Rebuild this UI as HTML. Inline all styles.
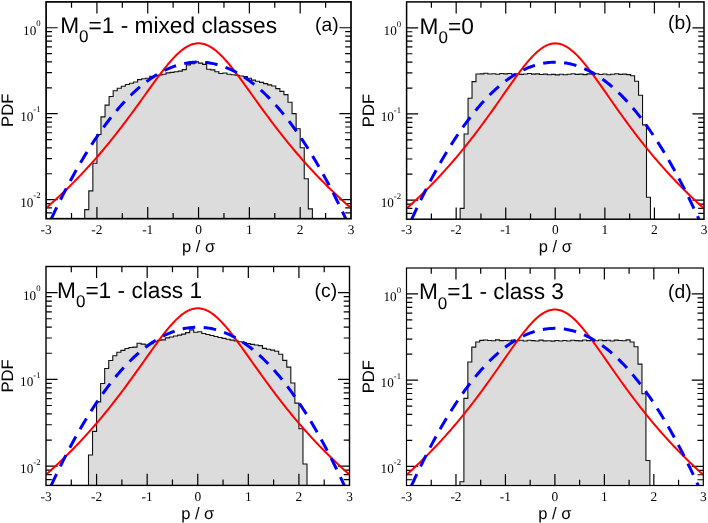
<!DOCTYPE html>
<html><head><meta charset="utf-8"><title>PDF panels</title>
<style>
html,body{margin:0;padding:0;background:#fff;}
body{width:708px;height:523px;overflow:hidden;font-family:"Liberation Sans",sans-serif;}
svg{display:block;}
text{filter:grayscale(1);text-rendering:geometricPrecision;}
text{fill:#000;}
.ss{font-family:"Liberation Sans",sans-serif;}
.sf{font-family:"Liberation Serif",serif;}
</style></head>
<body>
<svg width="708" height="523" viewBox="0 0 708 523">
<rect width="708" height="523" fill="#fff"/>
<clipPath id="clip0"><rect x="46.1" y="1.9" width="304.9" height="216.8"/></clipPath>
<g clip-path="url(#clip0)">
<path d="M84.72 218.7 L84.72 209.6 L88.79 209.6 L88.79 190.9 L92.85 190.9 L92.85 163.3 L96.92 163.3 L96.92 134.5 L100.98 134.5 L100.98 116.9 L105.05 116.9 L105.05 105.1 L109.11 105.1 L109.11 96.5 L113.18 96.5 L113.18 90.7 L117.24 90.7 L117.24 88.2 L121.31 88.2 L121.31 86.2 L125.37 86.2 L125.37 84.5 L129.44 84.5 L129.44 83.2 L133.5 83.2 L133.5 82 L137.57 82 L137.57 79.6 L141.64 79.6 L141.64 78.8 L145.7 78.8 L145.7 78.3 L149.77 78.3 L149.77 76.3 L153.83 76.3 L153.83 75.6 L157.9 75.6 L157.9 75 L161.96 75 L161.96 74.3 L166.03 74.3 L166.03 72.9 L170.09 72.9 L170.09 72.4 L174.16 72.4 L174.16 71.7 L178.22 71.7 L178.22 71.1 L182.29 71.1 L182.29 69.6 L186.35 69.6 L186.35 64.9 L190.42 64.9 L190.42 63.7 L194.48 63.7 L194.48 61.9 L198.55 61.9 L198.55 63.1 L202.62 63.1 L202.62 64.4 L206.68 64.4 L206.68 69.3 L210.75 69.3 L210.75 69.9 L214.81 69.9 L214.81 71.7 L218.88 71.7 L218.88 73.5 L222.94 73.5 L222.94 73 L227.01 73 L227.01 74.3 L231.07 74.3 L231.07 74.8 L235.14 74.8 L235.14 75.3 L239.2 75.3 L239.2 76 L243.27 76 L243.27 76.6 L247.33 76.6 L247.33 78.3 L251.4 78.3 L251.4 80.1 L255.46 80.1 L255.46 81.2 L259.53 81.2 L259.53 82.4 L263.6 82.4 L263.6 83.6 L267.66 83.6 L267.66 84.9 L271.73 84.9 L271.73 86 L275.79 86 L275.79 88.6 L279.86 88.6 L279.86 91.4 L283.92 91.4 L283.92 94.6 L287.99 94.6 L287.99 102.3 L292.05 102.3 L292.05 113.6 L296.12 113.6 L296.12 128.7 L300.18 128.7 L300.18 147.8 L304.25 147.8 L304.25 178.8 L308.31 178.8 L308.31 208.9 L312.38 208.9 L312.38 218.7 Z" fill="#dcdcdc" stroke="none"/>
</g>
<path d="M71.51 218.7 v-5.8 M71.51 1.9 v5.8 M96.92 218.7 v-11.6 M96.92 1.9 v11.6 M122.33 218.7 v-5.8 M122.33 1.9 v5.8 M147.73 218.7 v-11.6 M147.73 1.9 v11.6 M173.14 218.7 v-5.8 M173.14 1.9 v5.8 M198.55 218.7 v-11.6 M198.55 1.9 v11.6 M223.96 218.7 v-5.8 M223.96 1.9 v5.8 M249.37 218.7 v-11.6 M249.37 1.9 v11.6 M274.77 218.7 v-5.8 M274.77 1.9 v5.8 M300.18 218.7 v-11.6 M300.18 1.9 v11.6 M325.59 218.7 v-5.8 M325.59 1.9 v5.8 M46.1 27.77 h11.6 M351 27.77 h-11.6 M46.1 113.7 h11.6 M351 113.7 h-11.6 M46.1 87.83 h5.8 M351 87.83 h-5.8 M46.1 72.7 h5.8 M351 72.7 h-5.8 M46.1 61.96 h5.8 M351 61.96 h-5.8 M46.1 53.64 h5.8 M351 53.64 h-5.8 M46.1 46.83 h5.8 M351 46.83 h-5.8 M46.1 41.08 h5.8 M351 41.08 h-5.8 M46.1 36.1 h5.8 M351 36.1 h-5.8 M46.1 31.7 h5.8 M351 31.7 h-5.8 M46.1 199.64 h11.6 M351 199.64 h-11.6 M46.1 173.77 h5.8 M351 173.77 h-5.8 M46.1 158.64 h5.8 M351 158.64 h-5.8 M46.1 147.9 h5.8 M351 147.9 h-5.8 M46.1 139.57 h5.8 M351 139.57 h-5.8 M46.1 132.77 h5.8 M351 132.77 h-5.8 M46.1 127.01 h5.8 M351 127.01 h-5.8 M46.1 122.03 h5.8 M351 122.03 h-5.8 M46.1 117.63 h5.8 M351 117.63 h-5.8 M46.1 212.95 h5.8 M351 212.95 h-5.8 M46.1 207.96 h5.8 M351 207.96 h-5.8 M46.1 203.57 h5.8 M351 203.57 h-5.8" fill="none" stroke="#000" stroke-width="1.2"/>
<g clip-path="url(#clip0)">
<path d="M84.72 218.7 L84.72 209.6 L88.79 209.6 L88.79 190.9 L92.85 190.9 L92.85 163.3 L96.92 163.3 L96.92 134.5 L100.98 134.5 L100.98 116.9 L105.05 116.9 L105.05 105.1 L109.11 105.1 L109.11 96.5 L113.18 96.5 L113.18 90.7 L117.24 90.7 L117.24 88.2 L121.31 88.2 L121.31 86.2 L125.37 86.2 L125.37 84.5 L129.44 84.5 L129.44 83.2 L133.5 83.2 L133.5 82 L137.57 82 L137.57 79.6 L141.64 79.6 L141.64 78.8 L145.7 78.8 L145.7 78.3 L149.77 78.3 L149.77 76.3 L153.83 76.3 L153.83 75.6 L157.9 75.6 L157.9 75 L161.96 75 L161.96 74.3 L166.03 74.3 L166.03 72.9 L170.09 72.9 L170.09 72.4 L174.16 72.4 L174.16 71.7 L178.22 71.7 L178.22 71.1 L182.29 71.1 L182.29 69.6 L186.35 69.6 L186.35 64.9 L190.42 64.9 L190.42 63.7 L194.48 63.7 L194.48 61.9 L198.55 61.9 L198.55 63.1 L202.62 63.1 L202.62 64.4 L206.68 64.4 L206.68 69.3 L210.75 69.3 L210.75 69.9 L214.81 69.9 L214.81 71.7 L218.88 71.7 L218.88 73.5 L222.94 73.5 L222.94 73 L227.01 73 L227.01 74.3 L231.07 74.3 L231.07 74.8 L235.14 74.8 L235.14 75.3 L239.2 75.3 L239.2 76 L243.27 76 L243.27 76.6 L247.33 76.6 L247.33 78.3 L251.4 78.3 L251.4 80.1 L255.46 80.1 L255.46 81.2 L259.53 81.2 L259.53 82.4 L263.6 82.4 L263.6 83.6 L267.66 83.6 L267.66 84.9 L271.73 84.9 L271.73 86 L275.79 86 L275.79 88.6 L279.86 88.6 L279.86 91.4 L283.92 91.4 L283.92 94.6 L287.99 94.6 L287.99 102.3 L292.05 102.3 L292.05 113.6 L296.12 113.6 L296.12 128.7 L300.18 128.7 L300.18 147.8 L304.25 147.8 L304.25 178.8 L308.31 178.8 L308.31 208.9 L312.38 208.9 L312.38 218.7" fill="none" stroke="#111" stroke-width="1.1" stroke-linejoin="miter"/>
<path d="M46.1 208.1 L47.37 206.99 L48.64 205.87 L49.91 204.75 L51.18 203.62 L52.45 202.48 L53.72 201.33 L54.99 200.17 L56.26 199.01 L57.53 197.84 L58.8 196.66 L60.07 195.47 L61.34 194.27 L62.62 193.07 L63.89 191.86 L65.16 190.64 L66.43 189.41 L67.7 188.17 L68.97 186.93 L70.24 185.67 L71.51 184.41 L72.78 183.14 L74.05 181.86 L75.32 180.57 L76.59 179.27 L77.86 177.96 L79.13 176.64 L80.4 175.32 L81.67 173.98 L82.94 172.63 L84.21 171.28 L85.48 169.91 L86.75 168.54 L88.02 167.15 L89.29 165.76 L90.56 164.36 L91.84 162.94 L93.11 161.52 L94.38 160.08 L95.65 158.64 L96.92 157.18 L98.19 155.72 L99.46 154.24 L100.73 152.75 L102 151.26 L103.27 149.75 L104.54 148.23 L105.81 146.7 L107.08 145.17 L108.35 143.62 L109.62 142.06 L110.89 140.49 L112.16 138.91 L113.43 137.32 L114.7 135.71 L115.97 134.1 L117.24 132.48 L118.51 130.85 L119.78 129.21 L121.05 127.56 L122.33 125.9 L123.6 124.23 L124.87 122.55 L126.14 120.86 L127.41 119.16 L128.68 117.46 L129.95 115.74 L131.22 114.02 L132.49 112.29 L133.76 110.56 L135.03 108.82 L136.3 107.07 L137.57 105.32 L138.84 103.56 L140.11 101.8 L141.38 100.03 L142.65 98.26 L143.92 96.49 L145.19 94.72 L146.46 92.95 L147.73 91.18 L149 89.42 L150.27 87.66 L151.54 85.9 L152.82 84.14 L154.09 82.4 L155.36 80.67 L156.63 78.94 L157.9 77.23 L159.17 75.53 L160.44 73.85 L161.71 72.19 L162.98 70.54 L164.25 68.92 L165.52 67.33 L166.79 65.76 L168.06 64.22 L169.33 62.72 L170.6 61.25 L171.87 59.82 L173.14 58.42 L174.41 57.07 L175.68 55.77 L176.95 54.52 L178.22 53.32 L179.49 52.17 L180.76 51.08 L182.03 50.05 L183.31 49.09 L184.58 48.19 L185.85 47.36 L187.12 46.6 L188.39 45.92 L189.66 45.31 L190.93 44.77 L192.2 44.32 L193.47 43.94 L194.74 43.65 L196.01 43.44 L197.28 43.32 L198.55 43.28 L199.82 43.32 L201.09 43.44 L202.36 43.65 L203.63 43.94 L204.9 44.32 L206.17 44.77 L207.44 45.31 L208.71 45.92 L209.98 46.6 L211.25 47.36 L212.52 48.19 L213.8 49.09 L215.07 50.05 L216.34 51.08 L217.61 52.17 L218.88 53.32 L220.15 54.52 L221.42 55.77 L222.69 57.07 L223.96 58.42 L225.23 59.82 L226.5 61.25 L227.77 62.72 L229.04 64.22 L230.31 65.76 L231.58 67.33 L232.85 68.92 L234.12 70.54 L235.39 72.19 L236.66 73.85 L237.93 75.53 L239.2 77.23 L240.47 78.94 L241.74 80.67 L243.01 82.4 L244.28 84.14 L245.56 85.9 L246.83 87.66 L248.1 89.42 L249.37 91.18 L250.64 92.95 L251.91 94.72 L253.18 96.49 L254.45 98.26 L255.72 100.03 L256.99 101.8 L258.26 103.56 L259.53 105.32 L260.8 107.07 L262.07 108.82 L263.34 110.56 L264.61 112.29 L265.88 114.02 L267.15 115.74 L268.42 117.46 L269.69 119.16 L270.96 120.86 L272.23 122.55 L273.5 124.23 L274.77 125.9 L276.05 127.56 L277.32 129.21 L278.59 130.85 L279.86 132.48 L281.13 134.1 L282.4 135.71 L283.67 137.32 L284.94 138.91 L286.21 140.49 L287.48 142.06 L288.75 143.62 L290.02 145.17 L291.29 146.7 L292.56 148.23 L293.83 149.75 L295.1 151.26 L296.37 152.75 L297.64 154.24 L298.91 155.72 L300.18 157.18 L301.45 158.64 L302.72 160.08 L303.99 161.52 L305.26 162.94 L306.54 164.36 L307.81 165.76 L309.08 167.15 L310.35 168.54 L311.62 169.91 L312.89 171.28 L314.16 172.63 L315.43 173.98 L316.7 175.32 L317.97 176.64 L319.24 177.96 L320.51 179.27 L321.78 180.57 L323.05 181.86 L324.32 183.14 L325.59 184.41 L326.86 185.67 L328.13 186.93 L329.4 188.17 L330.67 189.41 L331.94 190.64 L333.21 191.86 L334.48 193.07 L335.75 194.27 L337.03 195.47 L338.3 196.66 L339.57 197.84 L340.84 199.01 L342.11 200.17 L343.38 201.33 L344.65 202.48 L345.92 203.62 L347.19 204.75 L348.46 205.87 L349.73 206.99 L351 208.1" fill="none" stroke="#ff0000" stroke-width="2.0"/>
<path d="M51.32 218.7 L52.55 216.1 L53.77 213.52 L55 210.97 L56.23 208.43 L57.46 205.92 L58.68 203.43 L59.91 200.96 L61.14 198.51 L62.36 196.09 L63.59 193.68 L64.82 191.3 L66.04 188.94 L67.27 186.6 L68.5 184.28 L69.72 181.99 L70.95 179.71 L72.18 177.46 L73.41 175.23 L74.63 173.03 L75.86 170.84 L77.09 168.67 L78.31 166.53 L79.54 164.41 L80.77 162.31 L81.99 160.23 L83.22 158.18 L84.45 156.14 L85.67 154.13 L86.9 152.14 L88.13 150.17 L89.36 148.22 L90.58 146.3 L91.81 144.4 L93.04 142.51 L94.26 140.65 L95.49 138.82 L96.72 137 L97.94 135.2 L99.17 133.43 L100.4 131.68 L101.62 129.95 L102.85 128.24 L104.08 126.56 L105.3 124.89 L106.53 123.25 L107.76 121.63 L108.99 120.03 L110.21 118.45 L111.44 116.9 L112.67 115.36 L113.89 113.85 L115.12 112.36 L116.35 110.89 L117.57 109.45 L118.8 108.02 L120.03 106.62 L121.25 105.24 L122.48 103.88 L123.71 102.54 L124.94 101.22 L126.16 99.93 L127.39 98.66 L128.62 97.4 L129.84 96.18 L131.07 94.97 L132.3 93.78 L133.52 92.62 L134.75 91.48 L135.98 90.36 L137.2 89.26 L138.43 88.18 L139.66 87.13 L140.89 86.09 L142.11 85.08 L143.34 84.09 L144.57 83.12 L145.79 82.18 L147.02 81.25 L148.25 80.35 L149.47 79.47 L150.7 78.61 L151.93 77.77 L153.15 76.96 L154.38 76.16 L155.61 75.39 L156.84 74.64 L158.06 73.91 L159.29 73.2 L160.52 72.52 L161.74 71.85 L162.97 71.21 L164.2 70.59 L165.42 69.99 L166.65 69.42 L167.88 68.86 L169.1 68.33 L170.33 67.82 L171.56 67.33 L172.78 66.86 L174.01 66.41 L175.24 65.99 L176.47 65.59 L177.69 65.21 L178.92 64.85 L180.15 64.51 L181.37 64.2 L182.6 63.9 L183.83 63.63 L185.05 63.38 L186.28 63.15 L187.51 62.94 L188.73 62.76 L189.96 62.6 L191.19 62.46 L192.42 62.34 L193.64 62.24 L194.87 62.16 L196.1 62.11 L197.32 62.07 L198.55 62.06 L199.78 62.07 L201 62.11 L202.23 62.16 L203.46 62.24 L204.68 62.34 L205.91 62.46 L207.14 62.6 L208.37 62.76 L209.59 62.94 L210.82 63.15 L212.05 63.38 L213.27 63.63 L214.5 63.9 L215.73 64.2 L216.95 64.51 L218.18 64.85 L219.41 65.21 L220.63 65.59 L221.86 65.99 L223.09 66.41 L224.32 66.86 L225.54 67.33 L226.77 67.82 L228 68.33 L229.22 68.86 L230.45 69.42 L231.68 69.99 L232.9 70.59 L234.13 71.21 L235.36 71.85 L236.58 72.52 L237.81 73.2 L239.04 73.91 L240.26 74.64 L241.49 75.39 L242.72 76.16 L243.95 76.96 L245.17 77.77 L246.4 78.61 L247.63 79.47 L248.85 80.35 L250.08 81.25 L251.31 82.18 L252.53 83.12 L253.76 84.09 L254.99 85.08 L256.21 86.09 L257.44 87.13 L258.67 88.18 L259.9 89.26 L261.12 90.36 L262.35 91.48 L263.58 92.62 L264.8 93.78 L266.03 94.97 L267.26 96.18 L268.48 97.4 L269.71 98.66 L270.94 99.93 L272.16 101.22 L273.39 102.54 L274.62 103.88 L275.85 105.24 L277.07 106.62 L278.3 108.02 L279.53 109.45 L280.75 110.89 L281.98 112.36 L283.21 113.85 L284.43 115.36 L285.66 116.9 L286.89 118.45 L288.11 120.03 L289.34 121.63 L290.57 123.25 L291.8 124.89 L293.02 126.56 L294.25 128.24 L295.48 129.95 L296.7 131.68 L297.93 133.43 L299.16 135.2 L300.38 137 L301.61 138.82 L302.84 140.65 L304.06 142.51 L305.29 144.4 L306.52 146.3 L307.74 148.22 L308.97 150.17 L310.2 152.14 L311.43 154.13 L312.65 156.14 L313.88 158.18 L315.11 160.23 L316.33 162.31 L317.56 164.41 L318.79 166.53 L320.01 168.67 L321.24 170.84 L322.47 173.03 L323.69 175.23 L324.92 177.46 L326.15 179.71 L327.38 181.99 L328.6 184.28 L329.83 186.6 L331.06 188.94 L332.28 191.3 L333.51 193.68 L334.74 196.09 L335.96 198.51 L337.19 200.96 L338.42 203.43 L339.64 205.92 L340.87 208.43 L342.1 210.97 L343.33 213.52 L344.55 216.1 L345.78 218.7" fill="none" stroke="#0000ff" stroke-width="3.0" stroke-dasharray="12.6 8.45" stroke-dashoffset="0"/>
</g>
<rect x="46.1" y="1.9" width="304.9" height="216.8" fill="none" stroke="#000" stroke-width="1.7"/>
<text x="46.1" y="233.9" class="sf" font-size="13.4" text-anchor="middle">-3</text>
<text x="96.92" y="233.9" class="sf" font-size="13.4" text-anchor="middle">-2</text>
<text x="147.73" y="233.9" class="sf" font-size="13.4" text-anchor="middle">-1</text>
<text x="198.55" y="233.9" class="sf" font-size="13.4" text-anchor="middle">0</text>
<text x="249.37" y="233.9" class="sf" font-size="13.4" text-anchor="middle">1</text>
<text x="300.18" y="233.9" class="sf" font-size="13.4" text-anchor="middle">2</text>
<text x="351" y="233.9" class="sf" font-size="13.4" text-anchor="middle">3</text>
<text x="40.6" y="34.77" class="sf" font-size="13.2" text-anchor="end">10<tspan font-size="8.7" dy="-8.3">0</tspan></text>
<text x="40.6" y="120.7" class="sf" font-size="13.2" text-anchor="end">10<tspan font-size="8.7" dy="-8.3">-1</tspan></text>
<text x="40.6" y="206.64" class="sf" font-size="13.2" text-anchor="end">10<tspan font-size="8.7" dy="-8.3">-2</tspan></text>
<text x="198.55" y="252.1" class="ss" font-size="16.5" text-anchor="middle">p / σ</text>
<text transform="translate(13.3 110.3) rotate(-90)" class="ss" font-size="16.6" text-anchor="middle">PDF</text>
<text x="60.2" y="32.9" class="ss" font-size="22.7">M<tspan font-size="17" dy="9.4">0</tspan><tspan dy="-9.4">=1 - mixed classes</tspan></text>
<text x="315" y="30.6" class="ss" font-size="19.3">(a)</text>
<clipPath id="clip1"><rect x="406.6" y="1.9" width="297.4" height="217.3"/></clipPath>
<g clip-path="url(#clip1)">
<path d="M460.13 219.2 L460.13 208.4 L464.1 208.4 L464.1 134 L468.06 134 L468.06 98.3 L472.03 98.3 L472.03 81.6 L475.99 81.6 L475.99 74 L479.96 74 L479.96 73.83 L483.92 73.83 L483.92 73.25 L487.89 73.25 L487.89 73.96 L491.85 73.96 L491.85 73.68 L495.82 73.68 L495.82 74.2 L499.79 74.2 L499.79 73.52 L503.75 73.52 L503.75 73.84 L507.72 73.84 L507.72 73.46 L511.68 73.46 L511.68 74.18 L515.65 74.18 L515.65 73.69 L519.61 73.69 L519.61 74.41 L523.58 74.41 L523.58 74.03 L527.54 74.03 L527.54 73.45 L531.51 73.45 L531.51 74.17 L535.47 74.17 L535.47 73.89 L539.44 73.89 L539.44 74.49 L543.4 74.49 L543.4 74.15 L547.37 74.15 L547.37 74.81 L551.33 74.81 L551.33 74.36 L555.3 74.36 L555.3 74.87 L559.27 74.87 L559.27 74.19 L563.23 74.19 L563.23 74.7 L567.2 74.7 L567.2 74.3 L571.16 74.3 L571.16 73.7 L575.13 73.7 L575.13 74.4 L579.09 74.4 L579.09 74.1 L583.06 74.1 L583.06 74.6 L587.02 74.6 L587.02 73.9 L590.99 73.9 L590.99 74.2 L594.95 74.2 L594.95 73.8 L598.92 73.8 L598.92 74.5 L602.88 74.5 L602.88 74 L606.85 74 L606.85 74.7 L610.81 74.7 L610.81 74.3 L614.78 74.3 L614.78 73.7 L618.75 73.7 L618.75 74.4 L622.71 74.4 L622.71 74.1 L626.68 74.1 L626.68 74.6 L630.64 74.6 L630.64 75.7 L634.61 75.7 L634.61 81.3 L638.57 81.3 L638.57 95.2 L642.54 95.2 L642.54 124.9 L646.5 124.9 L646.5 197.3 L650.47 197.3 L650.47 219.2 Z" fill="#dcdcdc" stroke="none"/>
</g>
<path d="M431.38 219.2 v-5.8 M431.38 1.9 v5.8 M456.17 219.2 v-11.6 M456.17 1.9 v11.6 M480.95 219.2 v-5.8 M480.95 1.9 v5.8 M505.73 219.2 v-11.6 M505.73 1.9 v11.6 M530.52 219.2 v-5.8 M530.52 1.9 v5.8 M555.3 219.2 v-11.6 M555.3 1.9 v11.6 M580.08 219.2 v-5.8 M580.08 1.9 v5.8 M604.87 219.2 v-11.6 M604.87 1.9 v11.6 M629.65 219.2 v-5.8 M629.65 1.9 v5.8 M654.43 219.2 v-11.6 M654.43 1.9 v11.6 M679.22 219.2 v-5.8 M679.22 1.9 v5.8 M406.6 27.83 h11.6 M704 27.83 h-11.6 M406.6 113.96 h11.6 M704 113.96 h-11.6 M406.6 88.03 h5.8 M704 88.03 h-5.8 M406.6 72.86 h5.8 M704 72.86 h-5.8 M406.6 62.1 h5.8 M704 62.1 h-5.8 M406.6 53.76 h5.8 M704 53.76 h-5.8 M406.6 46.94 h5.8 M704 46.94 h-5.8 M406.6 41.17 h5.8 M704 41.17 h-5.8 M406.6 36.18 h5.8 M704 36.18 h-5.8 M406.6 31.77 h5.8 M704 31.77 h-5.8 M406.6 200.09 h11.6 M704 200.09 h-11.6 M406.6 174.16 h5.8 M704 174.16 h-5.8 M406.6 159 h5.8 M704 159 h-5.8 M406.6 148.24 h5.8 M704 148.24 h-5.8 M406.6 139.89 h5.8 M704 139.89 h-5.8 M406.6 133.07 h5.8 M704 133.07 h-5.8 M406.6 127.3 h5.8 M704 127.3 h-5.8 M406.6 122.31 h5.8 M704 122.31 h-5.8 M406.6 117.9 h5.8 M704 117.9 h-5.8 M406.6 213.43 h5.8 M704 213.43 h-5.8 M406.6 208.44 h5.8 M704 208.44 h-5.8 M406.6 204.03 h5.8 M704 204.03 h-5.8" fill="none" stroke="#000" stroke-width="1.2"/>
<g clip-path="url(#clip1)">
<path d="M460.13 219.2 L460.13 208.4 L464.1 208.4 L464.1 134 L468.06 134 L468.06 98.3 L472.03 98.3 L472.03 81.6 L475.99 81.6 L475.99 74 L479.96 74 L479.96 73.83 L483.92 73.83 L483.92 73.25 L487.89 73.25 L487.89 73.96 L491.85 73.96 L491.85 73.68 L495.82 73.68 L495.82 74.2 L499.79 74.2 L499.79 73.52 L503.75 73.52 L503.75 73.84 L507.72 73.84 L507.72 73.46 L511.68 73.46 L511.68 74.18 L515.65 74.18 L515.65 73.69 L519.61 73.69 L519.61 74.41 L523.58 74.41 L523.58 74.03 L527.54 74.03 L527.54 73.45 L531.51 73.45 L531.51 74.17 L535.47 74.17 L535.47 73.89 L539.44 73.89 L539.44 74.49 L543.4 74.49 L543.4 74.15 L547.37 74.15 L547.37 74.81 L551.33 74.81 L551.33 74.36 L555.3 74.36 L555.3 74.87 L559.27 74.87 L559.27 74.19 L563.23 74.19 L563.23 74.7 L567.2 74.7 L567.2 74.3 L571.16 74.3 L571.16 73.7 L575.13 73.7 L575.13 74.4 L579.09 74.4 L579.09 74.1 L583.06 74.1 L583.06 74.6 L587.02 74.6 L587.02 73.9 L590.99 73.9 L590.99 74.2 L594.95 74.2 L594.95 73.8 L598.92 73.8 L598.92 74.5 L602.88 74.5 L602.88 74 L606.85 74 L606.85 74.7 L610.81 74.7 L610.81 74.3 L614.78 74.3 L614.78 73.7 L618.75 73.7 L618.75 74.4 L622.71 74.4 L622.71 74.1 L626.68 74.1 L626.68 74.6 L630.64 74.6 L630.64 75.7 L634.61 75.7 L634.61 81.3 L638.57 81.3 L638.57 95.2 L642.54 95.2 L642.54 124.9 L646.5 124.9 L646.5 197.3 L650.47 197.3 L650.47 219.2" fill="none" stroke="#111" stroke-width="1.1" stroke-linejoin="miter"/>
<path d="M406.6 208.58 L407.84 207.47 L409.08 206.34 L410.32 205.22 L411.56 204.08 L412.8 202.94 L414.03 201.79 L415.27 200.63 L416.51 199.46 L417.75 198.29 L418.99 197.11 L420.23 195.92 L421.47 194.72 L422.71 193.51 L423.95 192.3 L425.19 191.07 L426.43 189.84 L427.67 188.6 L428.9 187.35 L430.14 186.1 L431.38 184.83 L432.62 183.56 L433.86 182.27 L435.1 180.98 L436.34 179.68 L437.58 178.37 L438.82 177.05 L440.06 175.72 L441.3 174.38 L442.54 173.03 L443.77 171.67 L445.01 170.3 L446.25 168.92 L447.49 167.54 L448.73 166.14 L449.97 164.73 L451.21 163.31 L452.45 161.89 L453.69 160.45 L454.93 159 L456.17 157.54 L457.41 156.07 L458.64 154.59 L459.88 153.1 L461.12 151.6 L462.36 150.09 L463.6 148.57 L464.84 147.04 L466.08 145.5 L467.32 143.94 L468.56 142.38 L469.8 140.81 L471.04 139.22 L472.28 137.63 L473.51 136.02 L474.75 134.41 L475.99 132.78 L477.23 131.15 L478.47 129.5 L479.71 127.85 L480.95 126.18 L482.19 124.51 L483.43 122.83 L484.67 121.13 L485.91 119.43 L487.15 117.72 L488.38 116.01 L489.62 114.28 L490.86 112.55 L492.1 110.81 L493.34 109.06 L494.58 107.31 L495.82 105.55 L497.06 103.79 L498.3 102.03 L499.54 100.26 L500.78 98.48 L502.02 96.71 L503.25 94.94 L504.49 93.16 L505.73 91.39 L506.97 89.62 L508.21 87.85 L509.45 86.09 L510.69 84.33 L511.93 82.59 L513.17 80.85 L514.41 79.12 L515.65 77.4 L516.89 75.7 L518.12 74.02 L519.36 72.35 L520.6 70.7 L521.84 69.08 L523.08 67.48 L524.32 65.91 L525.56 64.37 L526.8 62.86 L528.04 61.39 L529.28 59.95 L530.52 58.55 L531.76 57.2 L532.99 55.9 L534.23 54.64 L535.47 53.44 L536.71 52.29 L537.95 51.2 L539.19 50.17 L540.43 49.2 L541.67 48.3 L542.91 47.47 L544.15 46.7 L545.39 46.02 L546.63 45.41 L547.87 44.87 L549.1 44.42 L550.34 44.04 L551.58 43.75 L552.82 43.54 L554.06 43.41 L555.3 43.37 L556.54 43.41 L557.78 43.54 L559.02 43.75 L560.26 44.04 L561.5 44.42 L562.73 44.87 L563.97 45.41 L565.21 46.02 L566.45 46.7 L567.69 47.47 L568.93 48.3 L570.17 49.2 L571.41 50.17 L572.65 51.2 L573.89 52.29 L575.13 53.44 L576.37 54.64 L577.61 55.9 L578.84 57.2 L580.08 58.55 L581.32 59.95 L582.56 61.39 L583.8 62.86 L585.04 64.37 L586.28 65.91 L587.52 67.48 L588.76 69.08 L590 70.7 L591.24 72.35 L592.47 74.02 L593.71 75.7 L594.95 77.4 L596.19 79.12 L597.43 80.85 L598.67 82.59 L599.91 84.33 L601.15 86.09 L602.39 87.85 L603.63 89.62 L604.87 91.39 L606.11 93.16 L607.34 94.94 L608.58 96.71 L609.82 98.48 L611.06 100.26 L612.3 102.03 L613.54 103.79 L614.78 105.55 L616.02 107.31 L617.26 109.06 L618.5 110.81 L619.74 112.55 L620.98 114.28 L622.21 116.01 L623.45 117.72 L624.69 119.43 L625.93 121.13 L627.17 122.83 L628.41 124.51 L629.65 126.18 L630.89 127.85 L632.13 129.5 L633.37 131.15 L634.61 132.78 L635.85 134.41 L637.08 136.02 L638.32 137.63 L639.56 139.22 L640.8 140.81 L642.04 142.38 L643.28 143.94 L644.52 145.5 L645.76 147.04 L647 148.57 L648.24 150.09 L649.48 151.6 L650.72 153.1 L651.95 154.59 L653.19 156.07 L654.43 157.54 L655.67 159 L656.91 160.45 L658.15 161.89 L659.39 163.31 L660.63 164.73 L661.87 166.14 L663.11 167.54 L664.35 168.92 L665.59 170.3 L666.82 171.67 L668.06 173.03 L669.3 174.38 L670.54 175.72 L671.78 177.05 L673.02 178.37 L674.26 179.68 L675.5 180.98 L676.74 182.27 L677.98 183.56 L679.22 184.83 L680.46 186.1 L681.69 187.35 L682.93 188.6 L684.17 189.84 L685.41 191.07 L686.65 192.3 L687.89 193.51 L689.13 194.72 L690.37 195.92 L691.61 197.11 L692.85 198.29 L694.09 199.46 L695.33 200.63 L696.56 201.79 L697.8 202.94 L699.04 204.08 L700.28 205.22 L701.52 206.34 L702.76 207.47 L704 208.58" fill="none" stroke="#ff0000" stroke-width="2.0"/>
<path d="M411.69 219.2 L412.89 216.59 L414.09 214.01 L415.28 211.45 L416.48 208.91 L417.68 206.39 L418.87 203.89 L420.07 201.42 L421.27 198.96 L422.46 196.53 L423.66 194.12 L424.86 191.74 L426.05 189.37 L427.25 187.03 L428.45 184.7 L429.64 182.4 L430.84 180.13 L432.04 177.87 L433.23 175.63 L434.43 173.42 L435.63 171.23 L436.82 169.06 L438.02 166.91 L439.22 164.79 L440.41 162.68 L441.61 160.6 L442.81 158.54 L444 156.5 L445.2 154.48 L446.4 152.49 L447.59 150.51 L448.79 148.56 L449.99 146.63 L451.18 144.72 L452.38 142.84 L453.58 140.97 L454.77 139.13 L455.97 137.31 L457.17 135.51 L458.36 133.73 L459.56 131.98 L460.76 130.25 L461.96 128.53 L463.15 126.84 L464.35 125.18 L465.55 123.53 L466.74 121.91 L467.94 120.3 L469.14 118.72 L470.33 117.16 L471.53 115.63 L472.73 114.11 L473.92 112.62 L475.12 111.14 L476.32 109.69 L477.51 108.27 L478.71 106.86 L479.91 105.47 L481.1 104.11 L482.3 102.77 L483.5 101.45 L484.69 100.15 L485.89 98.88 L487.09 97.63 L488.28 96.39 L489.48 95.18 L490.68 93.99 L491.87 92.83 L493.07 91.68 L494.27 90.56 L495.46 89.46 L496.66 88.38 L497.86 87.32 L499.05 86.29 L500.25 85.27 L501.45 84.28 L502.64 83.31 L503.84 82.36 L505.04 81.43 L506.23 80.53 L507.43 79.65 L508.63 78.79 L509.82 77.95 L511.02 77.13 L512.22 76.33 L513.41 75.56 L514.61 74.81 L515.81 74.08 L517 73.37 L518.2 72.68 L519.4 72.01 L520.59 71.37 L521.79 70.75 L522.99 70.15 L524.19 69.57 L525.38 69.02 L526.58 68.48 L527.78 67.97 L528.97 67.48 L530.17 67.01 L531.37 66.56 L532.56 66.14 L533.76 65.74 L534.96 65.35 L536.15 64.99 L537.35 64.66 L538.55 64.34 L539.74 64.05 L540.94 63.77 L542.14 63.52 L543.33 63.29 L544.53 63.09 L545.73 62.9 L546.92 62.74 L548.12 62.6 L549.32 62.48 L550.51 62.38 L551.71 62.3 L552.91 62.25 L554.1 62.21 L555.3 62.2 L556.5 62.21 L557.69 62.25 L558.89 62.3 L560.09 62.38 L561.28 62.48 L562.48 62.6 L563.68 62.74 L564.87 62.9 L566.07 63.09 L567.27 63.29 L568.46 63.52 L569.66 63.77 L570.86 64.05 L572.05 64.34 L573.25 64.66 L574.45 64.99 L575.64 65.35 L576.84 65.74 L578.04 66.14 L579.23 66.56 L580.43 67.01 L581.63 67.48 L582.82 67.97 L584.02 68.48 L585.22 69.02 L586.41 69.57 L587.61 70.15 L588.81 70.75 L590.01 71.37 L591.2 72.01 L592.4 72.68 L593.6 73.37 L594.79 74.08 L595.99 74.81 L597.19 75.56 L598.38 76.33 L599.58 77.13 L600.78 77.95 L601.97 78.79 L603.17 79.65 L604.37 80.53 L605.56 81.43 L606.76 82.36 L607.96 83.31 L609.15 84.28 L610.35 85.27 L611.55 86.29 L612.74 87.32 L613.94 88.38 L615.14 89.46 L616.33 90.56 L617.53 91.68 L618.73 92.83 L619.92 93.99 L621.12 95.18 L622.32 96.39 L623.51 97.63 L624.71 98.88 L625.91 100.15 L627.1 101.45 L628.3 102.77 L629.5 104.11 L630.69 105.47 L631.89 106.86 L633.09 108.27 L634.28 109.69 L635.48 111.14 L636.68 112.62 L637.87 114.11 L639.07 115.63 L640.27 117.16 L641.46 118.72 L642.66 120.3 L643.86 121.91 L645.05 123.53 L646.25 125.18 L647.45 126.84 L648.64 128.53 L649.84 130.25 L651.04 131.98 L652.24 133.73 L653.43 135.51 L654.63 137.31 L655.83 139.13 L657.02 140.97 L658.22 142.84 L659.42 144.72 L660.61 146.63 L661.81 148.56 L663.01 150.51 L664.2 152.49 L665.4 154.48 L666.6 156.5 L667.79 158.54 L668.99 160.6 L670.19 162.68 L671.38 164.79 L672.58 166.91 L673.78 169.06 L674.97 171.23 L676.17 173.42 L677.37 175.63 L678.56 177.87 L679.76 180.13 L680.96 182.4 L682.15 184.7 L683.35 187.03 L684.55 189.37 L685.74 191.74 L686.94 194.12 L688.14 196.53 L689.33 198.96 L690.53 201.42 L691.73 203.89 L692.92 206.39 L694.12 208.91 L695.32 211.45 L696.51 214.01 L697.71 216.59 L698.91 219.2" fill="none" stroke="#0000ff" stroke-width="3.0" stroke-dasharray="12.6 8.45" stroke-dashoffset="0"/>
</g>
<rect x="406.6" y="1.9" width="297.4" height="217.3" fill="none" stroke="#000" stroke-width="1.5"/>
<text x="406.6" y="233.9" class="sf" font-size="13.4" text-anchor="middle">-3</text>
<text x="456.17" y="233.9" class="sf" font-size="13.4" text-anchor="middle">-2</text>
<text x="505.73" y="233.9" class="sf" font-size="13.4" text-anchor="middle">-1</text>
<text x="555.3" y="233.9" class="sf" font-size="13.4" text-anchor="middle">0</text>
<text x="604.87" y="233.9" class="sf" font-size="13.4" text-anchor="middle">1</text>
<text x="654.43" y="233.9" class="sf" font-size="13.4" text-anchor="middle">2</text>
<text x="704" y="233.9" class="sf" font-size="13.4" text-anchor="middle">3</text>
<text x="401.1" y="34.83" class="sf" font-size="13.2" text-anchor="end">10<tspan font-size="8.7" dy="-8.3">0</tspan></text>
<text x="401.1" y="120.96" class="sf" font-size="13.2" text-anchor="end">10<tspan font-size="8.7" dy="-8.3">-1</tspan></text>
<text x="401.1" y="207.09" class="sf" font-size="13.2" text-anchor="end">10<tspan font-size="8.7" dy="-8.3">-2</tspan></text>
<text x="555.3" y="252.1" class="ss" font-size="16.5" text-anchor="middle">p / σ</text>
<text transform="translate(373.8 110.55) rotate(-90)" class="ss" font-size="16.6" text-anchor="middle">PDF</text>
<text x="419.6" y="34" class="ss" font-size="22.7">M<tspan font-size="17" dy="9.4">0</tspan><tspan dy="-9.4">=0</tspan></text>
<text x="668" y="28.6" class="ss" font-size="19.3">(b)</text>
<clipPath id="clip2"><rect x="46" y="266.5" width="303.5" height="218.9"/></clipPath>
<g clip-path="url(#clip2)">
<path d="M88.49 485.4 L88.49 455 L92.54 455 L92.54 431.4 L96.58 431.4 L96.58 401.9 L100.63 401.9 L100.63 383.5 L104.68 383.5 L104.68 368.5 L108.72 368.5 L108.72 360.5 L112.77 360.5 L112.77 355.7 L116.82 355.7 L116.82 352.3 L120.86 352.3 L120.86 350.4 L124.91 350.4 L124.91 348.5 L128.96 348.5 L128.96 347.5 L133 347.5 L133 347.1 L137.05 347.1 L137.05 343.3 L141.1 343.3 L141.1 344.1 L145.14 344.1 L145.14 345 L149.19 345 L149.19 343.7 L153.24 343.7 L153.24 341.8 L157.28 341.8 L157.28 340.2 L161.33 340.2 L161.33 339.9 L165.38 339.9 L165.38 337.9 L169.42 337.9 L169.42 337 L173.47 337 L173.47 336 L177.52 336 L177.52 335.1 L181.56 335.1 L181.56 334.1 L185.61 334.1 L185.61 332.6 L189.66 332.6 L189.66 329.9 L193.7 329.9 L193.7 332.2 L197.75 332.2 L197.75 331.8 L201.8 331.8 L201.8 333.44 L205.84 333.44 L205.84 334.53 L209.89 334.53 L209.89 335.52 L213.94 335.52 L213.94 336.49 L217.98 336.49 L217.98 337.46 L222.03 337.46 L222.03 338.35 L226.08 338.35 L226.08 339.22 L230.12 339.22 L230.12 340.08 L234.17 340.08 L234.17 340.93 L238.22 340.93 L238.22 341.76 L242.26 341.76 L242.26 342.6 L246.31 342.6 L246.31 343.48 L250.36 343.48 L250.36 344.38 L254.4 344.38 L254.4 345 L258.45 345 L258.45 345.6 L262.5 345.6 L262.5 348.4 L266.54 348.4 L266.54 349.2 L270.59 349.2 L270.59 350.1 L274.64 350.1 L274.64 351.2 L278.68 351.2 L278.68 354.3 L282.73 354.3 L282.73 360.4 L286.78 360.4 L286.78 367.1 L290.82 367.1 L290.82 383 L294.87 383 L294.87 403.1 L298.92 403.1 L298.92 428.8 L302.96 428.8 L302.96 464 L307.01 464 L307.01 485.4 Z" fill="#dcdcdc" stroke="none"/>
</g>
<path d="M71.29 485.4 v-5.8 M71.29 266.5 v5.8 M96.58 485.4 v-11.6 M96.58 266.5 v11.6 M121.88 485.4 v-5.8 M121.88 266.5 v5.8 M147.17 485.4 v-11.6 M147.17 266.5 v11.6 M172.46 485.4 v-5.8 M172.46 266.5 v5.8 M197.75 485.4 v-11.6 M197.75 266.5 v11.6 M223.04 485.4 v-5.8 M223.04 266.5 v5.8 M248.33 485.4 v-11.6 M248.33 266.5 v11.6 M273.62 485.4 v-5.8 M273.62 266.5 v5.8 M298.92 485.4 v-11.6 M298.92 266.5 v11.6 M324.21 485.4 v-5.8 M324.21 266.5 v5.8 M46 292.62 h11.6 M349.5 292.62 h-11.6 M46 379.39 h11.6 M349.5 379.39 h-11.6 M46 353.27 h5.8 M349.5 353.27 h-5.8 M46 337.99 h5.8 M349.5 337.99 h-5.8 M46 327.15 h5.8 M349.5 327.15 h-5.8 M46 318.74 h5.8 M349.5 318.74 h-5.8 M46 311.87 h5.8 M349.5 311.87 h-5.8 M46 306.06 h5.8 M349.5 306.06 h-5.8 M46 301.03 h5.8 M349.5 301.03 h-5.8 M46 296.59 h5.8 M349.5 296.59 h-5.8 M46 466.15 h11.6 M349.5 466.15 h-11.6 M46 440.03 h5.8 M349.5 440.03 h-5.8 M46 424.75 h5.8 M349.5 424.75 h-5.8 M46 413.91 h5.8 M349.5 413.91 h-5.8 M46 405.5 h5.8 M349.5 405.5 h-5.8 M46 398.63 h5.8 M349.5 398.63 h-5.8 M46 392.83 h5.8 M349.5 392.83 h-5.8 M46 387.79 h5.8 M349.5 387.79 h-5.8 M46 383.36 h5.8 M349.5 383.36 h-5.8 M46 479.59 h5.8 M349.5 479.59 h-5.8 M46 474.56 h5.8 M349.5 474.56 h-5.8 M46 470.12 h5.8 M349.5 470.12 h-5.8" fill="none" stroke="#000" stroke-width="1.2"/>
<g clip-path="url(#clip2)">
<path d="M88.49 485.4 L88.49 455 L92.54 455 L92.54 431.4 L96.58 431.4 L96.58 401.9 L100.63 401.9 L100.63 383.5 L104.68 383.5 L104.68 368.5 L108.72 368.5 L108.72 360.5 L112.77 360.5 L112.77 355.7 L116.82 355.7 L116.82 352.3 L120.86 352.3 L120.86 350.4 L124.91 350.4 L124.91 348.5 L128.96 348.5 L128.96 347.5 L133 347.5 L133 347.1 L137.05 347.1 L137.05 343.3 L141.1 343.3 L141.1 344.1 L145.14 344.1 L145.14 345 L149.19 345 L149.19 343.7 L153.24 343.7 L153.24 341.8 L157.28 341.8 L157.28 340.2 L161.33 340.2 L161.33 339.9 L165.38 339.9 L165.38 337.9 L169.42 337.9 L169.42 337 L173.47 337 L173.47 336 L177.52 336 L177.52 335.1 L181.56 335.1 L181.56 334.1 L185.61 334.1 L185.61 332.6 L189.66 332.6 L189.66 329.9 L193.7 329.9 L193.7 332.2 L197.75 332.2 L197.75 331.8 L201.8 331.8 L201.8 333.44 L205.84 333.44 L205.84 334.53 L209.89 334.53 L209.89 335.52 L213.94 335.52 L213.94 336.49 L217.98 336.49 L217.98 337.46 L222.03 337.46 L222.03 338.35 L226.08 338.35 L226.08 339.22 L230.12 339.22 L230.12 340.08 L234.17 340.08 L234.17 340.93 L238.22 340.93 L238.22 341.76 L242.26 341.76 L242.26 342.6 L246.31 342.6 L246.31 343.48 L250.36 343.48 L250.36 344.38 L254.4 344.38 L254.4 345 L258.45 345 L258.45 345.6 L262.5 345.6 L262.5 348.4 L266.54 348.4 L266.54 349.2 L270.59 349.2 L270.59 350.1 L274.64 350.1 L274.64 351.2 L278.68 351.2 L278.68 354.3 L282.73 354.3 L282.73 360.4 L286.78 360.4 L286.78 367.1 L290.82 367.1 L290.82 383 L294.87 383 L294.87 403.1 L298.92 403.1 L298.92 428.8 L302.96 428.8 L302.96 464 L307.01 464 L307.01 485.4" fill="none" stroke="#111" stroke-width="1.1" stroke-linejoin="miter"/>
<path d="M46 474.7 L47.26 473.58 L48.53 472.45 L49.79 471.31 L51.06 470.17 L52.32 469.02 L53.59 467.86 L54.85 466.69 L56.12 465.52 L57.38 464.33 L58.65 463.14 L59.91 461.95 L61.17 460.74 L62.44 459.52 L63.7 458.3 L64.97 457.07 L66.23 455.83 L67.5 454.58 L68.76 453.32 L70.03 452.05 L71.29 450.78 L72.56 449.49 L73.82 448.2 L75.09 446.9 L76.35 445.59 L77.61 444.27 L78.88 442.94 L80.14 441.6 L81.41 440.25 L82.67 438.89 L83.94 437.52 L85.2 436.14 L86.47 434.75 L87.73 433.36 L89 431.95 L90.26 430.53 L91.52 429.1 L92.79 427.66 L94.05 426.21 L95.32 424.76 L96.58 423.29 L97.85 421.81 L99.11 420.32 L100.38 418.82 L101.64 417.3 L102.91 415.78 L104.17 414.25 L105.44 412.71 L106.7 411.15 L107.96 409.59 L109.23 408.01 L110.49 406.43 L111.76 404.83 L113.02 403.23 L114.29 401.61 L115.55 399.98 L116.82 398.35 L118.08 396.7 L119.35 395.04 L120.61 393.37 L121.88 391.7 L123.14 390.01 L124.4 388.32 L125.67 386.61 L126.93 384.9 L128.2 383.18 L129.46 381.45 L130.73 379.71 L131.99 377.96 L133.26 376.21 L134.52 374.45 L135.79 372.69 L137.05 370.92 L138.31 369.14 L139.58 367.36 L140.84 365.58 L142.11 363.8 L143.37 362.01 L144.64 360.22 L145.9 358.44 L147.17 356.65 L148.43 354.87 L149.7 353.09 L150.96 351.31 L152.22 349.54 L153.49 347.78 L154.75 346.03 L156.02 344.29 L157.28 342.56 L158.55 340.84 L159.81 339.15 L161.08 337.47 L162.34 335.81 L163.61 334.17 L164.87 332.56 L166.14 330.98 L167.4 329.43 L168.66 327.91 L169.93 326.42 L171.19 324.98 L172.46 323.57 L173.72 322.21 L174.99 320.89 L176.25 319.63 L177.52 318.42 L178.78 317.26 L180.05 316.16 L181.31 315.12 L182.58 314.15 L183.84 313.24 L185.1 312.4 L186.37 311.63 L187.63 310.94 L188.9 310.33 L190.16 309.79 L191.43 309.33 L192.69 308.95 L193.96 308.66 L195.22 308.45 L196.49 308.32 L197.75 308.28 L199.01 308.32 L200.28 308.45 L201.54 308.66 L202.81 308.95 L204.07 309.33 L205.34 309.79 L206.6 310.33 L207.87 310.94 L209.13 311.63 L210.4 312.4 L211.66 313.24 L212.92 314.15 L214.19 315.12 L215.45 316.16 L216.72 317.26 L217.98 318.42 L219.25 319.63 L220.51 320.89 L221.78 322.21 L223.04 323.57 L224.31 324.98 L225.57 326.42 L226.84 327.91 L228.1 329.43 L229.36 330.98 L230.63 332.56 L231.89 334.17 L233.16 335.81 L234.42 337.47 L235.69 339.15 L236.95 340.84 L238.22 342.56 L239.48 344.29 L240.75 346.03 L242.01 347.78 L243.28 349.54 L244.54 351.31 L245.8 353.09 L247.07 354.87 L248.33 356.65 L249.6 358.44 L250.86 360.22 L252.13 362.01 L253.39 363.8 L254.66 365.58 L255.92 367.36 L257.19 369.14 L258.45 370.92 L259.71 372.69 L260.98 374.45 L262.24 376.21 L263.51 377.96 L264.77 379.71 L266.04 381.45 L267.3 383.18 L268.57 384.9 L269.83 386.61 L271.1 388.32 L272.36 390.01 L273.62 391.7 L274.89 393.37 L276.15 395.04 L277.42 396.7 L278.68 398.35 L279.95 399.98 L281.21 401.61 L282.48 403.23 L283.74 404.83 L285.01 406.43 L286.27 408.01 L287.54 409.59 L288.8 411.15 L290.06 412.71 L291.33 414.25 L292.59 415.78 L293.86 417.3 L295.12 418.82 L296.39 420.32 L297.65 421.81 L298.92 423.29 L300.18 424.76 L301.45 426.21 L302.71 427.66 L303.97 429.1 L305.24 430.53 L306.5 431.95 L307.77 433.36 L309.03 434.75 L310.3 436.14 L311.56 437.52 L312.83 438.89 L314.09 440.25 L315.36 441.6 L316.62 442.94 L317.89 444.27 L319.15 445.59 L320.41 446.9 L321.68 448.2 L322.94 449.49 L324.21 450.78 L325.47 452.05 L326.74 453.32 L328 454.58 L329.27 455.83 L330.53 457.07 L331.8 458.3 L333.06 459.52 L334.33 460.74 L335.59 461.95 L336.85 463.14 L338.12 464.33 L339.38 465.52 L340.65 466.69 L341.91 467.86 L343.18 469.02 L344.44 470.17 L345.71 471.31 L346.97 472.45 L348.24 473.58 L349.5 474.7" fill="none" stroke="#ff0000" stroke-width="2.0"/>
<path d="M51.2 485.4 L52.42 482.78 L53.64 480.17 L54.86 477.59 L56.08 475.03 L57.3 472.5 L58.52 469.98 L59.75 467.49 L60.97 465.02 L62.19 462.57 L63.41 460.14 L64.63 457.73 L65.85 455.35 L67.07 452.99 L68.29 450.65 L69.52 448.33 L70.74 446.04 L71.96 443.76 L73.18 441.51 L74.4 439.28 L75.62 437.08 L76.84 434.89 L78.07 432.73 L79.29 430.58 L80.51 428.46 L81.73 426.37 L82.95 424.29 L84.17 422.24 L85.39 420.21 L86.61 418.2 L87.84 416.21 L89.06 414.24 L90.28 412.3 L91.5 410.38 L92.72 408.48 L93.94 406.6 L95.16 404.74 L96.38 402.91 L97.61 401.1 L98.83 399.31 L100.05 397.54 L101.27 395.79 L102.49 394.07 L103.71 392.36 L104.93 390.68 L106.15 389.03 L107.38 387.39 L108.6 385.77 L109.82 384.18 L111.04 382.61 L112.26 381.06 L113.48 379.54 L114.7 378.03 L115.92 376.55 L117.15 375.09 L118.37 373.65 L119.59 372.23 L120.81 370.84 L122.03 369.46 L123.25 368.11 L124.47 366.78 L125.69 365.48 L126.92 364.19 L128.14 362.93 L129.36 361.69 L130.58 360.47 L131.8 359.27 L133.02 358.1 L134.24 356.94 L135.46 355.81 L136.69 354.7 L137.91 353.62 L139.13 352.55 L140.35 351.51 L141.57 350.49 L142.79 349.49 L144.01 348.51 L145.24 347.55 L146.46 346.62 L147.68 345.71 L148.9 344.82 L150.12 343.95 L151.34 343.11 L152.56 342.28 L153.78 341.48 L155.01 340.7 L156.23 339.94 L157.45 339.21 L158.67 338.49 L159.89 337.8 L161.11 337.13 L162.33 336.48 L163.55 335.86 L164.78 335.25 L166 334.67 L167.22 334.11 L168.44 333.57 L169.66 333.06 L170.88 332.56 L172.1 332.09 L173.32 331.64 L174.55 331.21 L175.77 330.81 L176.99 330.42 L178.21 330.06 L179.43 329.72 L180.65 329.4 L181.87 329.1 L183.09 328.83 L184.32 328.58 L185.54 328.34 L186.76 328.14 L187.98 327.95 L189.2 327.78 L190.42 327.64 L191.64 327.52 L192.86 327.42 L194.09 327.35 L195.31 327.29 L196.53 327.26 L197.75 327.25 L198.97 327.26 L200.19 327.29 L201.41 327.35 L202.64 327.42 L203.86 327.52 L205.08 327.64 L206.3 327.78 L207.52 327.95 L208.74 328.14 L209.96 328.34 L211.18 328.58 L212.41 328.83 L213.63 329.1 L214.85 329.4 L216.07 329.72 L217.29 330.06 L218.51 330.42 L219.73 330.81 L220.95 331.21 L222.18 331.64 L223.4 332.09 L224.62 332.56 L225.84 333.06 L227.06 333.57 L228.28 334.11 L229.5 334.67 L230.72 335.25 L231.95 335.86 L233.17 336.48 L234.39 337.13 L235.61 337.8 L236.83 338.49 L238.05 339.21 L239.27 339.94 L240.49 340.7 L241.72 341.48 L242.94 342.28 L244.16 343.11 L245.38 343.95 L246.6 344.82 L247.82 345.71 L249.04 346.62 L250.26 347.55 L251.49 348.51 L252.71 349.49 L253.93 350.49 L255.15 351.51 L256.37 352.55 L257.59 353.62 L258.81 354.7 L260.04 355.81 L261.26 356.94 L262.48 358.1 L263.7 359.27 L264.92 360.47 L266.14 361.69 L267.36 362.93 L268.58 364.19 L269.81 365.48 L271.03 366.78 L272.25 368.11 L273.47 369.46 L274.69 370.84 L275.91 372.23 L277.13 373.65 L278.35 375.09 L279.58 376.55 L280.8 378.03 L282.02 379.54 L283.24 381.06 L284.46 382.61 L285.68 384.18 L286.9 385.77 L288.12 387.39 L289.35 389.03 L290.57 390.68 L291.79 392.36 L293.01 394.07 L294.23 395.79 L295.45 397.54 L296.67 399.31 L297.89 401.1 L299.12 402.91 L300.34 404.74 L301.56 406.6 L302.78 408.48 L304 410.38 L305.22 412.3 L306.44 414.24 L307.66 416.21 L308.89 418.2 L310.11 420.21 L311.33 422.24 L312.55 424.29 L313.77 426.37 L314.99 428.46 L316.21 430.58 L317.43 432.73 L318.66 434.89 L319.88 437.08 L321.1 439.28 L322.32 441.51 L323.54 443.76 L324.76 446.04 L325.98 448.33 L327.21 450.65 L328.43 452.99 L329.65 455.35 L330.87 457.73 L332.09 460.14 L333.31 462.57 L334.53 465.02 L335.75 467.49 L336.98 469.98 L338.2 472.5 L339.42 475.03 L340.64 477.59 L341.86 480.17 L343.08 482.78 L344.3 485.4" fill="none" stroke="#0000ff" stroke-width="3.0" stroke-dasharray="12.6 8.45" stroke-dashoffset="0"/>
</g>
<rect x="46" y="266.5" width="303.5" height="218.9" fill="none" stroke="#000" stroke-width="1.4"/>
<text x="46" y="500.5" class="sf" font-size="13.4" text-anchor="middle">-3</text>
<text x="96.58" y="500.5" class="sf" font-size="13.4" text-anchor="middle">-2</text>
<text x="147.17" y="500.5" class="sf" font-size="13.4" text-anchor="middle">-1</text>
<text x="197.75" y="500.5" class="sf" font-size="13.4" text-anchor="middle">0</text>
<text x="248.33" y="500.5" class="sf" font-size="13.4" text-anchor="middle">1</text>
<text x="298.92" y="500.5" class="sf" font-size="13.4" text-anchor="middle">2</text>
<text x="349.5" y="500.5" class="sf" font-size="13.4" text-anchor="middle">3</text>
<text x="40.5" y="299.62" class="sf" font-size="13.2" text-anchor="end">10<tspan font-size="8.7" dy="-8.3">0</tspan></text>
<text x="40.5" y="386.39" class="sf" font-size="13.2" text-anchor="end">10<tspan font-size="8.7" dy="-8.3">-1</tspan></text>
<text x="40.5" y="473.15" class="sf" font-size="13.2" text-anchor="end">10<tspan font-size="8.7" dy="-8.3">-2</tspan></text>
<text x="197.75" y="518.8" class="ss" font-size="16.5" text-anchor="middle">p / σ</text>
<text transform="translate(13.2 375.95) rotate(-90)" class="ss" font-size="16.6" text-anchor="middle">PDF</text>
<text x="57" y="298" class="ss" font-size="22.7">M<tspan font-size="17" dy="9.4">0</tspan><tspan dy="-9.4">=1 - class 1</tspan></text>
<text x="314.6" y="297.4" class="ss" font-size="19.3">(c)</text>
<clipPath id="clip3"><rect x="406.5" y="268" width="296.8" height="217.5"/></clipPath>
<g clip-path="url(#clip3)">
<path d="M459.92 485.5 L459.92 481.7 L463.88 481.7 L463.88 398.4 L467.84 398.4 L467.84 362 L471.8 362 L471.8 347.1 L475.75 347.1 L475.75 342 L479.71 342 L479.71 340.4 L483.67 340.4 L483.67 340.02 L487.63 340.02 L487.63 340.45 L491.58 340.45 L491.58 340.76 L495.54 340.76 L495.54 339.88 L499.5 339.88 L499.5 340.61 L503.45 340.61 L503.45 340.43 L507.41 340.43 L507.41 340.75 L511.37 340.75 L511.37 340.07 L515.33 340.07 L515.33 340.69 L519.28 340.69 L519.28 340.31 L523.24 340.31 L523.24 341.03 L527.2 341.03 L527.2 340.25 L531.16 340.25 L531.16 340.67 L535.11 340.67 L535.11 340.99 L539.07 340.99 L539.07 340.12 L543.03 340.12 L543.03 340.9 L546.99 340.9 L546.99 340.78 L550.94 340.78 L550.94 341.16 L554.9 341.16 L554.9 340.45 L558.86 340.45 L558.86 340.94 L562.81 340.94 L562.81 340.43 L566.77 340.43 L566.77 341.03 L570.73 341.03 L570.73 340.19 L574.69 340.19 L574.69 340.59 L578.64 340.59 L578.64 340.88 L582.6 340.88 L582.6 339.97 L586.56 339.97 L586.56 340.67 L590.52 340.67 L590.52 340.46 L594.47 340.46 L594.47 340.75 L598.43 340.75 L598.43 340.05 L602.39 340.05 L602.39 340.64 L606.35 340.64 L606.35 340.24 L610.3 340.24 L610.3 340.93 L614.26 340.93 L614.26 340.12 L618.22 340.12 L618.22 340.51 L622.17 340.51 L622.17 340.81 L626.13 340.81 L626.13 339.9 L630.09 339.9 L630.09 342 L634.05 342 L634.05 346.8 L638 346.8 L638 364.1 L641.96 364.1 L641.96 393.8 L645.92 393.8 L645.92 460.5 L649.88 460.5 L649.88 485.5 Z" fill="#dcdcdc" stroke="none"/>
</g>
<path d="M431.23 485.5 v-5.8 M431.23 268 v5.8 M455.97 485.5 v-11.6 M455.97 268 v11.6 M480.7 485.5 v-5.8 M480.7 268 v5.8 M505.43 485.5 v-11.6 M505.43 268 v11.6 M530.17 485.5 v-5.8 M530.17 268 v5.8 M554.9 485.5 v-11.6 M554.9 268 v11.6 M579.63 485.5 v-5.8 M579.63 268 v5.8 M604.37 485.5 v-11.6 M604.37 268 v11.6 M629.1 485.5 v-5.8 M629.1 268 v5.8 M653.83 485.5 v-11.6 M653.83 268 v11.6 M678.57 485.5 v-5.8 M678.57 268 v5.8 M406.5 293.95 h11.6 M703.3 293.95 h-11.6 M406.5 380.16 h11.6 M703.3 380.16 h-11.6 M406.5 354.21 h5.8 M703.3 354.21 h-5.8 M406.5 339.03 h5.8 M703.3 339.03 h-5.8 M406.5 328.26 h5.8 M703.3 328.26 h-5.8 M406.5 319.9 h5.8 M703.3 319.9 h-5.8 M406.5 313.08 h5.8 M703.3 313.08 h-5.8 M406.5 307.31 h5.8 M703.3 307.31 h-5.8 M406.5 302.31 h5.8 M703.3 302.31 h-5.8 M406.5 297.9 h5.8 M703.3 297.9 h-5.8 M406.5 466.37 h11.6 M703.3 466.37 h-11.6 M406.5 440.42 h5.8 M703.3 440.42 h-5.8 M406.5 425.24 h5.8 M703.3 425.24 h-5.8 M406.5 414.47 h5.8 M703.3 414.47 h-5.8 M406.5 406.12 h5.8 M703.3 406.12 h-5.8 M406.5 399.29 h5.8 M703.3 399.29 h-5.8 M406.5 393.52 h5.8 M703.3 393.52 h-5.8 M406.5 388.52 h5.8 M703.3 388.52 h-5.8 M406.5 384.11 h5.8 M703.3 384.11 h-5.8 M406.5 479.73 h5.8 M703.3 479.73 h-5.8 M406.5 474.73 h5.8 M703.3 474.73 h-5.8 M406.5 470.32 h5.8 M703.3 470.32 h-5.8" fill="none" stroke="#000" stroke-width="1.2"/>
<g clip-path="url(#clip3)">
<path d="M459.92 485.5 L459.92 481.7 L463.88 481.7 L463.88 398.4 L467.84 398.4 L467.84 362 L471.8 362 L471.8 347.1 L475.75 347.1 L475.75 342 L479.71 342 L479.71 340.4 L483.67 340.4 L483.67 340.02 L487.63 340.02 L487.63 340.45 L491.58 340.45 L491.58 340.76 L495.54 340.76 L495.54 339.88 L499.5 339.88 L499.5 340.61 L503.45 340.61 L503.45 340.43 L507.41 340.43 L507.41 340.75 L511.37 340.75 L511.37 340.07 L515.33 340.07 L515.33 340.69 L519.28 340.69 L519.28 340.31 L523.24 340.31 L523.24 341.03 L527.2 341.03 L527.2 340.25 L531.16 340.25 L531.16 340.67 L535.11 340.67 L535.11 340.99 L539.07 340.99 L539.07 340.12 L543.03 340.12 L543.03 340.9 L546.99 340.9 L546.99 340.78 L550.94 340.78 L550.94 341.16 L554.9 341.16 L554.9 340.45 L558.86 340.45 L558.86 340.94 L562.81 340.94 L562.81 340.43 L566.77 340.43 L566.77 341.03 L570.73 341.03 L570.73 340.19 L574.69 340.19 L574.69 340.59 L578.64 340.59 L578.64 340.88 L582.6 340.88 L582.6 339.97 L586.56 339.97 L586.56 340.67 L590.52 340.67 L590.52 340.46 L594.47 340.46 L594.47 340.75 L598.43 340.75 L598.43 340.05 L602.39 340.05 L602.39 340.64 L606.35 340.64 L606.35 340.24 L610.3 340.24 L610.3 340.93 L614.26 340.93 L614.26 340.12 L618.22 340.12 L618.22 340.51 L622.17 340.51 L622.17 340.81 L626.13 340.81 L626.13 339.9 L630.09 339.9 L630.09 342 L634.05 342 L634.05 346.8 L638 346.8 L638 364.1 L641.96 364.1 L641.96 393.8 L645.92 393.8 L645.92 460.5 L649.88 460.5 L649.88 485.5" fill="none" stroke="#111" stroke-width="1.1" stroke-linejoin="miter"/>
<path d="M406.5 474.87 L407.74 473.75 L408.97 472.63 L410.21 471.5 L411.45 470.37 L412.68 469.22 L413.92 468.07 L415.16 466.91 L416.39 465.74 L417.63 464.57 L418.87 463.39 L420.1 462.2 L421.34 461 L422.58 459.79 L423.81 458.57 L425.05 457.35 L426.29 456.12 L427.52 454.88 L428.76 453.63 L430 452.37 L431.23 451.1 L432.47 449.82 L433.71 448.54 L434.94 447.24 L436.18 445.94 L437.42 444.63 L438.65 443.31 L439.89 441.98 L441.13 440.64 L442.36 439.29 L443.6 437.93 L444.84 436.56 L446.07 435.18 L447.31 433.79 L448.55 432.39 L449.78 430.98 L451.02 429.56 L452.26 428.13 L453.49 426.69 L454.73 425.24 L455.97 423.78 L457.2 422.31 L458.44 420.83 L459.68 419.34 L460.91 417.84 L462.15 416.33 L463.39 414.81 L464.62 413.27 L465.86 411.73 L467.1 410.17 L468.33 408.61 L469.57 407.03 L470.81 405.45 L472.04 403.85 L473.28 402.25 L474.52 400.63 L475.75 399 L476.99 397.37 L478.23 395.72 L479.46 394.06 L480.7 392.4 L481.94 390.72 L483.17 389.04 L484.41 387.34 L485.65 385.64 L486.88 383.93 L488.12 382.21 L489.36 380.48 L490.59 378.75 L491.83 377.01 L493.07 375.26 L494.3 373.51 L495.54 371.75 L496.78 369.99 L498.01 368.22 L499.25 366.45 L500.49 364.67 L501.72 362.9 L502.96 361.12 L504.2 359.35 L505.43 357.57 L506.67 355.8 L507.91 354.03 L509.14 352.27 L510.38 350.51 L511.62 348.76 L512.85 347.02 L514.09 345.29 L515.33 343.57 L516.56 341.87 L517.8 340.18 L519.04 338.51 L520.27 336.87 L521.51 335.24 L522.75 333.64 L523.98 332.07 L525.22 330.53 L526.46 329.02 L527.69 327.54 L528.93 326.1 L530.17 324.71 L531.4 323.35 L532.64 322.05 L533.88 320.79 L535.11 319.58 L536.35 318.43 L537.59 317.34 L538.82 316.31 L540.06 315.34 L541.3 314.44 L542.53 313.61 L543.77 312.85 L545.01 312.16 L546.24 311.55 L547.48 311.01 L548.72 310.56 L549.95 310.18 L551.19 309.89 L552.43 309.68 L553.66 309.55 L554.9 309.51 L556.14 309.55 L557.37 309.68 L558.61 309.89 L559.85 310.18 L561.08 310.56 L562.32 311.01 L563.56 311.55 L564.79 312.16 L566.03 312.85 L567.27 313.61 L568.5 314.44 L569.74 315.34 L570.98 316.31 L572.21 317.34 L573.45 318.43 L574.69 319.58 L575.92 320.79 L577.16 322.05 L578.4 323.35 L579.63 324.71 L580.87 326.1 L582.11 327.54 L583.34 329.02 L584.58 330.53 L585.82 332.07 L587.05 333.64 L588.29 335.24 L589.53 336.87 L590.76 338.51 L592 340.18 L593.24 341.87 L594.47 343.57 L595.71 345.29 L596.95 347.02 L598.18 348.76 L599.42 350.51 L600.66 352.27 L601.89 354.03 L603.13 355.8 L604.37 357.57 L605.6 359.35 L606.84 361.12 L608.08 362.9 L609.31 364.67 L610.55 366.45 L611.79 368.22 L613.02 369.99 L614.26 371.75 L615.5 373.51 L616.73 375.26 L617.97 377.01 L619.21 378.75 L620.44 380.48 L621.68 382.21 L622.92 383.93 L624.15 385.64 L625.39 387.34 L626.63 389.04 L627.86 390.72 L629.1 392.4 L630.34 394.06 L631.57 395.72 L632.81 397.37 L634.05 399 L635.28 400.63 L636.52 402.25 L637.76 403.85 L638.99 405.45 L640.23 407.03 L641.47 408.61 L642.7 410.17 L643.94 411.73 L645.18 413.27 L646.41 414.81 L647.65 416.33 L648.89 417.84 L650.12 419.34 L651.36 420.83 L652.6 422.31 L653.83 423.78 L655.07 425.24 L656.31 426.69 L657.54 428.13 L658.78 429.56 L660.02 430.98 L661.25 432.39 L662.49 433.79 L663.73 435.18 L664.96 436.56 L666.2 437.93 L667.44 439.29 L668.67 440.64 L669.91 441.98 L671.15 443.31 L672.38 444.63 L673.62 445.94 L674.86 447.24 L676.09 448.54 L677.33 449.82 L678.57 451.1 L679.8 452.37 L681.04 453.63 L682.28 454.88 L683.51 456.12 L684.75 457.35 L685.99 458.57 L687.22 459.79 L688.46 461 L689.7 462.2 L690.93 463.39 L692.17 464.57 L693.41 465.74 L694.64 466.91 L695.88 468.07 L697.12 469.22 L698.35 470.37 L699.59 471.5 L700.83 472.63 L702.06 473.75 L703.3 474.87" fill="none" stroke="#ff0000" stroke-width="2.0"/>
<path d="M411.58 485.5 L412.78 482.89 L413.97 480.31 L415.17 477.74 L416.36 475.2 L417.55 472.68 L418.75 470.18 L419.94 467.7 L421.14 465.25 L422.33 462.81 L423.53 460.4 L424.72 458.01 L425.91 455.64 L427.11 453.3 L428.3 450.97 L429.5 448.67 L430.69 446.39 L431.89 444.13 L433.08 441.89 L434.27 439.68 L435.47 437.48 L436.66 435.31 L437.86 433.16 L439.05 431.04 L440.25 428.93 L441.44 426.84 L442.63 424.78 L443.83 422.74 L445.02 420.72 L446.22 418.73 L447.41 416.75 L448.61 414.8 L449.8 412.87 L450.99 410.96 L452.19 409.07 L453.38 407.2 L454.58 405.36 L455.77 403.54 L456.97 401.73 L458.16 399.96 L459.35 398.2 L460.55 396.46 L461.74 394.75 L462.94 393.06 L464.13 391.39 L465.33 389.74 L466.52 388.12 L467.72 386.51 L468.91 384.93 L470.1 383.37 L471.3 381.83 L472.49 380.31 L473.69 378.82 L474.88 377.34 L476.08 375.89 L477.27 374.46 L478.46 373.06 L479.66 371.67 L480.85 370.31 L482.05 368.96 L483.24 367.64 L484.44 366.34 L485.63 365.07 L486.82 363.81 L488.02 362.58 L489.21 361.37 L490.41 360.18 L491.6 359.01 L492.8 357.87 L493.99 356.74 L495.18 355.64 L496.38 354.56 L497.57 353.5 L498.77 352.46 L499.96 351.45 L501.16 350.46 L502.35 349.48 L503.54 348.54 L504.74 347.61 L505.93 346.7 L507.13 345.82 L508.32 344.96 L509.52 344.12 L510.71 343.3 L511.9 342.5 L513.1 341.73 L514.29 340.97 L515.49 340.24 L516.68 339.53 L517.88 338.85 L519.07 338.18 L520.26 337.54 L521.46 336.91 L522.65 336.31 L523.85 335.74 L525.04 335.18 L526.24 334.64 L527.43 334.13 L528.63 333.64 L529.82 333.17 L531.01 332.72 L532.21 332.3 L533.4 331.89 L534.6 331.51 L535.79 331.15 L536.99 330.81 L538.18 330.5 L539.37 330.2 L540.57 329.93 L541.76 329.68 L542.96 329.45 L544.15 329.24 L545.35 329.06 L546.54 328.89 L547.73 328.75 L548.93 328.63 L550.12 328.53 L551.32 328.46 L552.51 328.4 L553.71 328.37 L554.9 328.36 L556.09 328.37 L557.29 328.4 L558.48 328.46 L559.68 328.53 L560.87 328.63 L562.07 328.75 L563.26 328.89 L564.45 329.06 L565.65 329.24 L566.84 329.45 L568.04 329.68 L569.23 329.93 L570.43 330.2 L571.62 330.5 L572.81 330.81 L574.01 331.15 L575.2 331.51 L576.4 331.89 L577.59 332.3 L578.79 332.72 L579.98 333.17 L581.17 333.64 L582.37 334.13 L583.56 334.64 L584.76 335.18 L585.95 335.74 L587.15 336.31 L588.34 336.91 L589.54 337.54 L590.73 338.18 L591.92 338.85 L593.12 339.53 L594.31 340.24 L595.51 340.97 L596.7 341.73 L597.9 342.5 L599.09 343.3 L600.28 344.12 L601.48 344.96 L602.67 345.82 L603.87 346.7 L605.06 347.61 L606.26 348.54 L607.45 349.48 L608.64 350.46 L609.84 351.45 L611.03 352.46 L612.23 353.5 L613.42 354.56 L614.62 355.64 L615.81 356.74 L617 357.87 L618.2 359.01 L619.39 360.18 L620.59 361.37 L621.78 362.58 L622.98 363.81 L624.17 365.07 L625.36 366.34 L626.56 367.64 L627.75 368.96 L628.95 370.31 L630.14 371.67 L631.34 373.06 L632.53 374.46 L633.72 375.89 L634.92 377.34 L636.11 378.82 L637.31 380.31 L638.5 381.83 L639.7 383.37 L640.89 384.93 L642.08 386.51 L643.28 388.12 L644.47 389.74 L645.67 391.39 L646.86 393.06 L648.06 394.75 L649.25 396.46 L650.45 398.2 L651.64 399.96 L652.83 401.73 L654.03 403.54 L655.22 405.36 L656.42 407.2 L657.61 409.07 L658.81 410.96 L660 412.87 L661.19 414.8 L662.39 416.75 L663.58 418.73 L664.78 420.72 L665.97 422.74 L667.17 424.78 L668.36 426.84 L669.55 428.93 L670.75 431.04 L671.94 433.16 L673.14 435.31 L674.33 437.48 L675.53 439.68 L676.72 441.89 L677.91 444.13 L679.11 446.39 L680.3 448.67 L681.5 450.97 L682.69 453.3 L683.89 455.64 L685.08 458.01 L686.27 460.4 L687.47 462.81 L688.66 465.25 L689.86 467.7 L691.05 470.18 L692.25 472.68 L693.44 475.2 L694.63 477.74 L695.83 480.31 L697.02 482.89 L698.22 485.5" fill="none" stroke="#0000ff" stroke-width="3.0" stroke-dasharray="12.6 8.45" stroke-dashoffset="0"/>
</g>
<rect x="406.5" y="268" width="296.8" height="217.5" fill="none" stroke="#000" stroke-width="1.2"/>
<text x="406.5" y="500.5" class="sf" font-size="13.4" text-anchor="middle">-3</text>
<text x="455.97" y="500.5" class="sf" font-size="13.4" text-anchor="middle">-2</text>
<text x="505.43" y="500.5" class="sf" font-size="13.4" text-anchor="middle">-1</text>
<text x="554.9" y="500.5" class="sf" font-size="13.4" text-anchor="middle">0</text>
<text x="604.37" y="500.5" class="sf" font-size="13.4" text-anchor="middle">1</text>
<text x="653.83" y="500.5" class="sf" font-size="13.4" text-anchor="middle">2</text>
<text x="703.3" y="500.5" class="sf" font-size="13.4" text-anchor="middle">3</text>
<text x="401" y="300.95" class="sf" font-size="13.2" text-anchor="end">10<tspan font-size="8.7" dy="-8.3">0</tspan></text>
<text x="401" y="387.16" class="sf" font-size="13.2" text-anchor="end">10<tspan font-size="8.7" dy="-8.3">-1</tspan></text>
<text x="401" y="473.37" class="sf" font-size="13.2" text-anchor="end">10<tspan font-size="8.7" dy="-8.3">-2</tspan></text>
<text x="554.9" y="518.8" class="ss" font-size="16.5" text-anchor="middle">p / σ</text>
<text transform="translate(373.7 376.75) rotate(-90)" class="ss" font-size="16.6" text-anchor="middle">PDF</text>
<text x="418.9" y="299.2" class="ss" font-size="22.7">M<tspan font-size="17" dy="9.4">0</tspan><tspan dy="-9.4">=1 - class 3</tspan></text>
<text x="668" y="298.2" class="ss" font-size="19.3">(d)</text>
</svg>
</body></html>
